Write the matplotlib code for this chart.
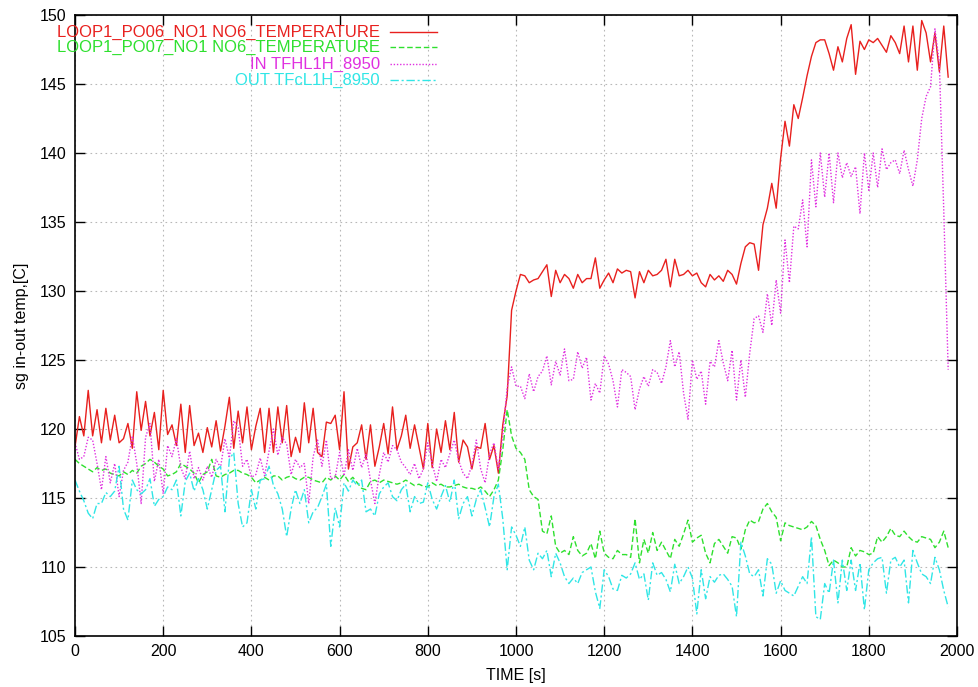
import matplotlib
matplotlib.use("Agg")
import matplotlib.pyplot as plt
import numpy as np
from matplotlib.lines import Line2D

# sample times, every 10 s from 0 to 1980
T_START = 0
T_STEP = 10
T_COUNT = 199

labels = ["LOOP1_PO06_NO1 NO6_TEMPERATURE",
          "LOOP1_PO07_NO1 NO6_TEMPERATURE",
          "IN TFHL1H_8950",
          "OUT TFcL1H_8950"]

loop1_po06 = [
    118.7, 120.9, 119.5, 122.8, 119.5, 121.4, 119.0, 121.5, 119.2, 121.0,
    119.0, 119.3, 120.4, 118.6, 122.7, 119.9, 122.0, 119.5, 121.2, 118.5,
    122.8, 119.6, 120.3, 118.8, 121.8, 118.3, 121.7, 118.8, 119.7, 118.3,
    120.1, 118.7, 120.6, 118.4, 120.2, 122.3, 118.6, 121.3, 119.0, 121.6,
    118.5, 120.2, 121.5, 118.3, 121.5, 118.3, 121.6, 119.0, 121.7, 118.0,
    119.4, 118.3, 121.9, 119.0, 121.5, 118.3, 118.0, 120.5, 120.4, 121.0,
    118.5, 122.7, 117.1, 118.7, 119.0, 120.3, 117.8, 120.3, 117.3, 118.7,
    120.4, 118.2, 121.6, 118.5, 119.5, 121.0, 118.6, 120.3, 118.7, 117.1,
    120.4, 117.2, 120.0, 118.3, 120.6, 118.5, 121.2, 117.6, 119.2, 118.7,
    117.1, 118.7, 118.6, 120.4, 117.8, 118.8, 116.8, 120.3, 122.4, 128.6,
    130.0, 131.2, 131.1, 130.6, 130.8, 130.9, 131.4, 131.9, 129.6, 131.5,
    130.6, 131.2, 130.9, 130.2, 131.2, 130.6, 130.9, 130.9, 132.4, 130.2,
    130.8, 131.3, 130.6, 131.6, 131.3, 131.5, 131.4, 129.5, 131.4, 130.6,
    131.5, 131.1, 131.2, 131.5, 132.3, 130.3, 132.3, 131.1, 131.2, 131.5,
    131.1, 131.3, 130.6, 130.3, 131.2, 130.8, 131.1, 130.7, 131.5, 131.2,
    130.5, 132.0, 133.2, 133.5, 133.4, 131.5, 134.8, 136.0, 137.8, 136.0,
    139.6, 142.3, 140.5, 143.5, 142.5, 144.0, 145.6, 147.0, 148.0, 148.2,
    148.2, 147.2, 146.0, 147.7, 146.6, 148.3, 149.3, 145.7, 148.1, 147.5,
    148.2, 148.0, 148.3, 147.8, 147.3, 148.5, 148.0, 147.2, 149.2, 146.6,
    149.2, 146.0, 149.6, 148.7, 146.6, 148.7, 145.9, 149.2, 145.5]

loop1_po07 = [
    117.8, 117.5, 117.3, 117.1, 116.9, 117.2, 117.0, 117.1, 116.8, 116.7,
    116.6, 116.9, 116.7, 117.0, 116.8, 117.3, 117.5, 117.8, 117.6, 117.3,
    117.1, 116.6, 116.7, 116.9, 117.5, 117.3, 117.1, 116.8, 116.1, 116.7,
    116.9, 117.8, 116.6, 116.5, 116.7, 116.8, 117.0, 117.0, 116.8, 116.7,
    116.5, 116.1, 116.3, 116.5, 116.3, 116.6, 116.6, 116.3, 116.5, 116.6,
    116.4, 116.3, 116.5, 116.5, 116.3, 116.2, 116.1, 116.5, 116.3, 116.6,
    116.3, 116.7, 116.2, 116.5, 116.1, 115.7, 115.6, 116.2, 116.3, 116.1,
    116.3, 116.2, 116.1, 116.0, 116.1, 116.3, 116.1, 115.9, 116.0, 115.85,
    115.8, 116.1, 115.9, 116.0, 115.8, 115.8, 115.9, 116.0, 115.8, 115.7,
    115.7, 115.6, 115.8, 115.5, 115.1, 115.6, 116.3, 118.5, 121.4, 119.5,
    118.6, 118.3, 117.8, 115.6, 115.1, 114.9, 112.6, 112.4, 113.7, 111.5,
    111.0, 111.2, 110.9, 112.2, 111.2, 110.8, 111.0, 111.7, 110.6, 112.6,
    111.0, 110.7, 110.6, 111.2, 110.9, 110.9, 110.7, 113.5, 110.3, 112.0,
    111.0, 112.5, 111.2, 111.8, 111.2, 110.6, 112.0, 111.5, 112.4, 113.4,
    111.8, 112.1, 112.3, 111.0, 110.3, 111.7, 112.0, 111.5, 111.0, 112.2,
    112.1, 111.3, 112.7, 113.4, 113.2, 113.3, 114.2, 114.6, 114.0, 113.6,
    111.9, 113.2, 113.0, 112.9, 112.8, 112.7, 112.9, 113.3, 113.0, 112.0,
    111.2, 110.1, 110.5, 110.3, 110.0, 110.0, 111.4, 110.8, 111.2, 111.1,
    110.9, 111.0, 112.2, 111.8, 112.2, 112.8, 112.3, 112.2, 112.6, 112.2,
    111.9, 111.8, 112.2, 112.1, 112.0, 111.4, 111.8, 112.6, 111.4]

in_tfhl = [
    119.0, 117.8, 118.0, 119.4, 119.2, 117.5, 115.6, 118.0, 116.1, 117.5,
    115.1, 117.0, 117.6, 119.5, 117.5, 114.6, 119.4, 120.4, 116.2, 117.8,
    115.3, 118.8, 118.0, 119.3, 117.2, 116.4, 118.4, 116.4, 117.2, 116.3,
    117.3, 116.5, 117.8, 117.2, 119.3, 117.9, 120.6, 120.1, 117.3, 117.8,
    116.5, 116.7, 117.9, 116.6, 118.4, 120.0, 118.1, 119.4, 118.9, 116.7,
    117.8, 117.2, 117.5, 114.6, 118.0, 119.2, 117.3, 119.2, 116.4, 116.5,
    118.3, 116.6, 118.5, 117.0, 118.6, 117.2, 118.2, 116.3, 114.6, 116.7,
    118.3, 117.6, 118.8, 118.5, 117.6, 117.2, 116.7, 117.5, 116.4, 117.1,
    119.0, 117.5, 116.2, 117.8, 117.2, 118.2, 119.2, 117.7, 116.8, 116.4,
    117.4, 119.2, 117.1, 116.1, 118.2, 119.0, 117.1, 119.5, 123.0, 124.5,
    123.1, 123.1, 122.2, 124.0, 122.7, 123.8, 124.2, 125.3, 123.2, 124.9,
    123.9, 125.8, 123.5, 123.6, 125.6, 124.4, 125.2, 122.1, 123.3, 122.6,
    125.3, 124.7, 123.5, 121.6, 124.3, 124.1, 123.8, 121.4, 122.9, 123.8,
    123.1, 124.3, 124.1, 123.3, 124.5, 126.4, 124.5, 125.6, 122.6, 120.7,
    125.0, 123.6, 124.2, 121.8, 124.9, 124.5, 126.4, 124.8, 123.5, 125.7,
    122.1, 125.0, 122.3, 125.5, 128.0, 128.2, 127.0, 129.8, 127.5, 130.8,
    128.4, 133.7, 130.6, 134.7, 134.5, 136.6, 133.2, 139.5, 136.1, 140.0,
    136.8, 140.0, 136.4, 140.0, 138.2, 139.3, 138.3, 139.0, 135.6, 140.0,
    137.3, 140.0, 137.5, 140.3, 138.8, 139.3, 139.5, 138.5, 140.2, 138.8,
    137.6, 139.5, 142.5, 144.1, 144.8, 149.0, 146.5, 135.8, 124.3]

out_tfcl = [
    116.3, 115.5, 114.8, 113.9, 113.5, 114.6, 114.6, 115.4, 115.1, 115.5,
    117.3, 114.2, 113.4, 116.3, 115.6, 115.3, 115.6, 116.4, 114.4, 114.9,
    115.1, 115.8, 115.6, 116.3, 113.7, 116.2, 116.8, 115.5, 116.4, 115.6,
    114.2, 115.6, 117.0, 117.3, 114.0, 117.8, 118.3, 114.6, 112.9, 113.2,
    115.6, 114.2, 116.3, 116.4, 117.3, 115.9, 115.3, 114.2, 112.2, 114.2,
    115.6, 114.6, 115.6, 113.2, 114.0, 114.3, 115.1, 116.0, 111.5, 114.3,
    112.9, 116.1, 115.5, 116.3, 115.9, 116.3, 114.0, 114.2, 113.7, 115.3,
    115.8, 116.1, 115.1, 114.8, 115.6, 116.0, 114.0, 115.1, 114.6, 114.7,
    116.1, 114.9, 114.2, 115.1, 115.9, 114.7, 116.3, 113.5, 114.6, 115.1,
    113.7, 114.9, 115.6, 114.3, 112.9, 115.1, 116.0, 113.5, 109.8, 112.9,
    112.3, 111.5, 112.9, 110.5, 109.8, 111.0, 110.6, 111.2, 109.3, 111.0,
    110.3, 109.3, 108.8, 109.2, 108.8, 109.6, 109.8, 110.0, 108.2, 107.0,
    109.8, 109.3, 108.4, 108.3, 109.4, 109.2, 109.5, 110.3, 109.1, 109.5,
    107.6, 110.3, 109.4, 109.6, 109.1, 108.2, 110.2, 108.8, 109.3, 110.0,
    109.2, 106.6, 109.8, 107.7, 109.3, 108.9, 109.4, 109.5, 109.1, 108.6,
    106.4, 111.8, 110.8, 109.5, 109.3, 109.8, 107.9, 110.6, 110.2, 108.1,
    109.0, 108.3, 108.1, 107.9, 108.6, 109.3, 108.8, 112.2, 106.4, 106.2,
    108.8, 108.1, 110.5, 107.4, 110.5, 108.3, 110.5, 108.3, 110.3, 106.9,
    109.8, 110.3, 110.6, 110.7, 108.1, 110.5, 110.7, 110.0, 110.5, 107.4,
    111.2, 110.3, 109.5, 109.3, 108.8, 110.7, 109.8, 108.3, 107.1]

colors = ["#e8201e", "#2ee02e", "#e030e0", "#30e6e6"]
styles = ["-", (0, (4, 2)), (0, (1, 1.3)), (0, (6, 2, 1.5, 2))]

plt.rcParams["font.family"] = ["Liberation Sans", "DejaVu Sans"]

fig = plt.figure(figsize=(9.79, 6.87), dpi=100)
ax = fig.add_axes([75 / 979, 1 - 636 / 687, (957 - 75) / 979, (636 - 15) / 687])

t = T_START + T_STEP * np.arange(T_COUNT)
series = [loop1_po06, loop1_po07, in_tfhl, out_tfcl]
for vals, c, ls in zip(series, colors, styles):
    ax.plot(t, vals, color=c, linestyle=ls, linewidth=1.0)

ax.set_xlim(0, 2000)
ax.set_ylim(105, 150)
ax.set_xticks(np.arange(0, 2001, 200))
ax.set_yticks(np.arange(105, 151, 5))
ax.grid(True, color="#b8b8b8", linestyle=(0, (1.5, 3)), linewidth=0.8)
ax.tick_params(direction="in", length=7, width=1.0, top=True, right=True,
               labelsize=11.5, pad=6, colors="black")
for s in ax.spines.values():
    s.set_linewidth(1.2)
ax.set_xlabel("TIME [s]", fontsize=11.5, labelpad=6)
ax.set_ylabel("sg in-out temp,[C]", fontsize=11.5, labelpad=8)

# gnuplot style key: text right aligned, sample line on its right
key_y = [32, 47, 64, 80]
for lab, c, ls, yy in zip(labels, colors, styles, key_y):
    yf = 1 - yy / 687
    fig.text(380 / 979, yf, lab, color=c, fontsize=12, ha="right", va="center")
    fig.add_artist(Line2D([390 / 979, 437 / 979], [yf, yf], color=c,
                          linestyle=ls, linewidth=1.0,
                          transform=fig.transFigure))

fig.savefig("out.png", dpi=100)
